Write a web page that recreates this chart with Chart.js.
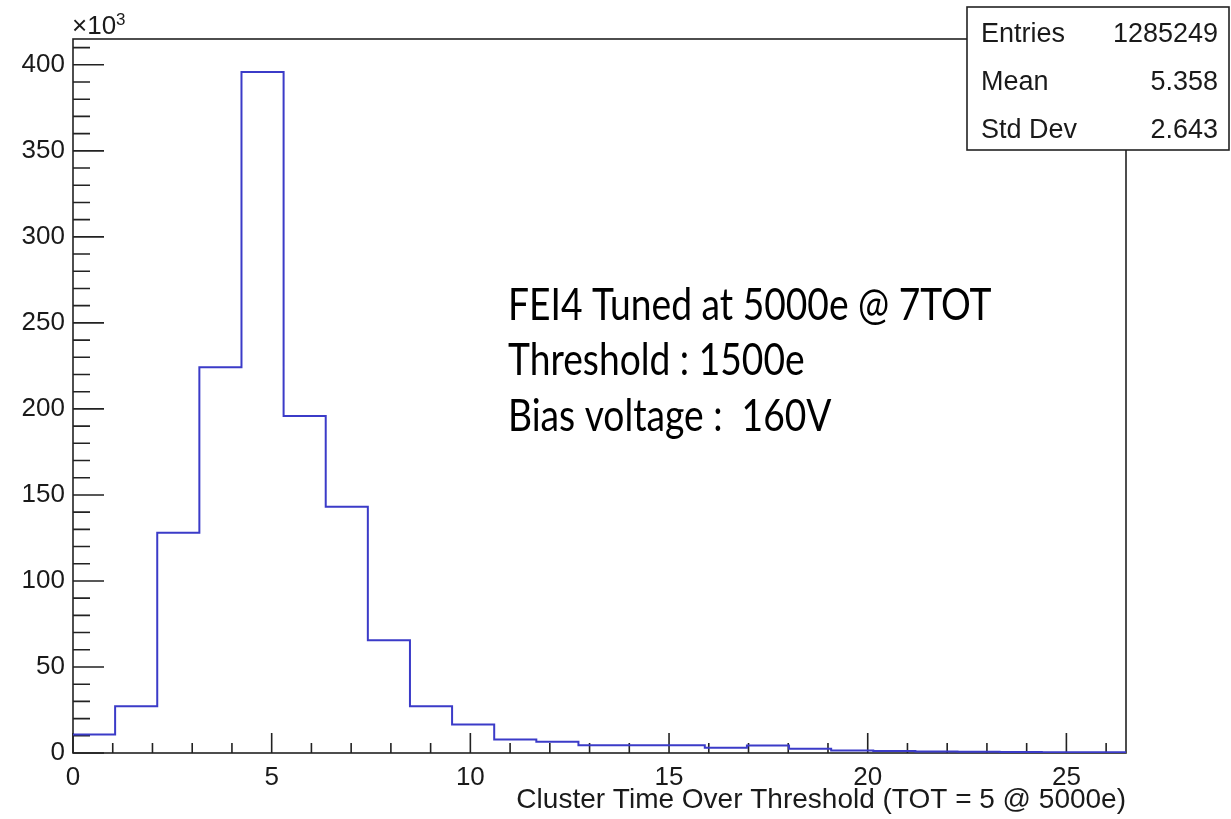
<!DOCTYPE html>
<html>
<head>
<meta charset="utf-8">
<script src="https://cdn.jsdelivr.net/npm/chart.js"></script>
<style>
  body { margin: 0; background: #fff; }
</style>
</head>
<body>
<canvas id="hist" width="1231" height="819"></canvas>
<script>
// histogram bins (TOT), 25 bins from 0 to 26.5
var binEdges = [0, 1.06, 2.12, 3.18, 4.24, 5.3, 6.36, 7.42, 8.48, 9.54, 10.6, 11.66, 12.72,
	13.78, 14.84, 15.9, 16.96, 18.02, 19.08, 20.14, 21.2, 22.26, 23.32, 24.38, 25.44, 26.5];
// counts per bin, in units of 10^3
var binCounts = [10.7, 27.2, 128.0, 224.2, 395.8, 195.9, 143.1, 65.6, 27.2, 16.5, 7.8, 6.6, 4.5,
	4.5, 4.5, 3.1, 4.3, 2.5, 1.4, 1.1, 0.9, 0.7, 0.6, 0.5, 0.4];

var xTickLabels = [0, 5, 10, 15, 20, 25];
var yTickLabels = [0, 50, 100, 150, 200, 250, 300, 350, 400];

var statNames = ["Entries", "Mean", "Std Dev"];
var statValues = ["1285249", "5.358", "2.643"];

var infoLines = ["FEI4 Tuned at 5000e @ 7TOT", "Threshold : 1500e", "Bias voltage :  160V"];

var xTitle = "Cluster Time Over Threshold (TOT = 5 @ 5000e)";

var axisFont = "'Liberation Sans', Arial, sans-serif";
var inkColor = "#1a1a1a";

// step outline: one point per lower edge, plus the last upper edge
var points = [];
for (var i = 0; i < binCounts.length; i++) {
	points.push({x: binEdges[i], y: binCounts[i]});
}
points.push({x: binEdges[binEdges.length - 1], y: binCounts[binCounts.length - 1]});

// frame and inward ticks, ROOT style
var framePlugin = {
	id: 'frame',
	beforeDatasetsDraw: function(chart) {
		var ctx = chart.ctx;
		var a = chart.chartArea;
		var xs = chart.scales.x;
		var ys = chart.scales.y;
		ctx.save();
		ctx.strokeStyle = "#222";
		ctx.lineWidth = 1.6;
		ctx.strokeRect(a.left, a.top, a.right - a.left, a.bottom - a.top);

		ctx.beginPath();
		for (var v = 0; v <= 410; v += 10) {
			var py = ys.getPixelForValue(v);
			var len = (v % 50 == 0) ? 31 : 17;
			ctx.moveTo(a.left, py);
			ctx.lineTo(a.left + len, py);
		}
		for (var t = 0; t <= 26; t += 1) {
			var px = xs.getPixelForValue(t);
			var tl = (t % 5 == 0) ? 20 : 10;
			ctx.moveTo(px, a.bottom);
			ctx.lineTo(px, a.bottom - tl);
		}
		ctx.stroke();

		// x10^3 multiplier
		ctx.fillStyle = inkColor;
		ctx.textAlign = "left";
		ctx.textBaseline = "alphabetic";
		ctx.font = "26px " + axisFont;
		ctx.fillText("\u00d710", a.left - 1, 34);
		var w = ctx.measureText("\u00d710").width;
		ctx.font = "17px " + axisFont;
		ctx.fillText("3", a.left - 1 + w, 25);
		ctx.restore();
	},
	afterDraw: function(chart) {
		var ctx = chart.ctx;
		ctx.save();

		// annotation text
		ctx.fillStyle = "#000";
		ctx.textAlign = "left";
		ctx.textBaseline = "alphabetic";
		var fam = "Lato, 'Open Sans', sans-serif";
		ctx.font = "40px " + fam;
		var size = 40 * 484 / ctx.measureText(infoLines[0]).width;
		var stretch = 32 / (0.72 * size);
		var baselines = [320, 375, 431];
		for (var i = 0; i < infoLines.length; i++) {
			ctx.save();
			ctx.translate(508, baselines[i]);
			ctx.scale(1, stretch);
			ctx.font = size.toFixed(1) + "px " + fam;
			ctx.fillText(infoLines[i], 0, 0);
			ctx.restore();
		}

		// stats box
		var bx = 967, by = 7, bw = 262, bh = 143;
		ctx.fillStyle = "#fff";
		ctx.fillRect(bx, by, bw, bh);
		ctx.strokeStyle = "#222";
		ctx.lineWidth = 1.6;
		ctx.strokeRect(bx, by, bw, bh);
		ctx.font = "27px " + axisFont;
		ctx.fillStyle = inkColor;
		var rowY = [42, 90, 138];
		for (var r = 0; r < statNames.length; r++) {
			ctx.textAlign = "left";
			ctx.fillText(statNames[r], 981, rowY[r]);
			ctx.textAlign = "right";
			ctx.fillText(statValues[r], 1218, rowY[r]);
		}
		ctx.restore();
	}
};

var ctx = document.getElementById('hist').getContext('2d');
var chart = new Chart(ctx, {
	type: 'line',
	data: {
		datasets: [{
			label: "TOT",
			data: points,
			stepped: 'before',
			borderColor: '#3b3bc8',
			borderWidth: 2,
			pointRadius: 0,
			fill: false
		}]
	},
	options: {
		responsive: false,
		animation: false,
		layout: {
			padding: {left: 0, right: 105, top: 39, bottom: 0}
		},
		plugins: {
			legend: {display: false},
			title: {display: false},
			tooltip: {enabled: false}
		},
		scales: {
			x: {
				type: 'linear',
				min: 0,
				max: 26.5,
				grid: {display: false, drawTicks: false},
				border: {display: false},
				afterFit: function(scale) { scale.height = 66; },
				afterBuildTicks: function(scale) {
					scale.ticks = xTickLabels.map(function(v) { return {value: v}; });
				},
				ticks: {
					color: inkColor,
					padding: 9,
					maxRotation: 0,
					font: {family: axisFont, size: 26}
				},
				title: {
					display: true,
					text: xTitle,
					align: 'end',
					color: inkColor,
					padding: {top: 0, bottom: 2},
					font: {family: axisFont, size: 28}
				}
			},
			y: {
				min: 0,
				max: 415,
				grid: {display: false, drawTicks: false},
				border: {display: false},
				afterFit: function(scale) { scale.width = 73; },
				afterBuildTicks: function(scale) {
					scale.ticks = yTickLabels.map(function(v) { return {value: v}; });
				},
				ticks: {
					color: inkColor,
					padding: 8,
					font: {family: axisFont, size: 26}
				}
			}
		}
	},
	plugins: [framePlugin]
});
</script>
</body>
</html>
